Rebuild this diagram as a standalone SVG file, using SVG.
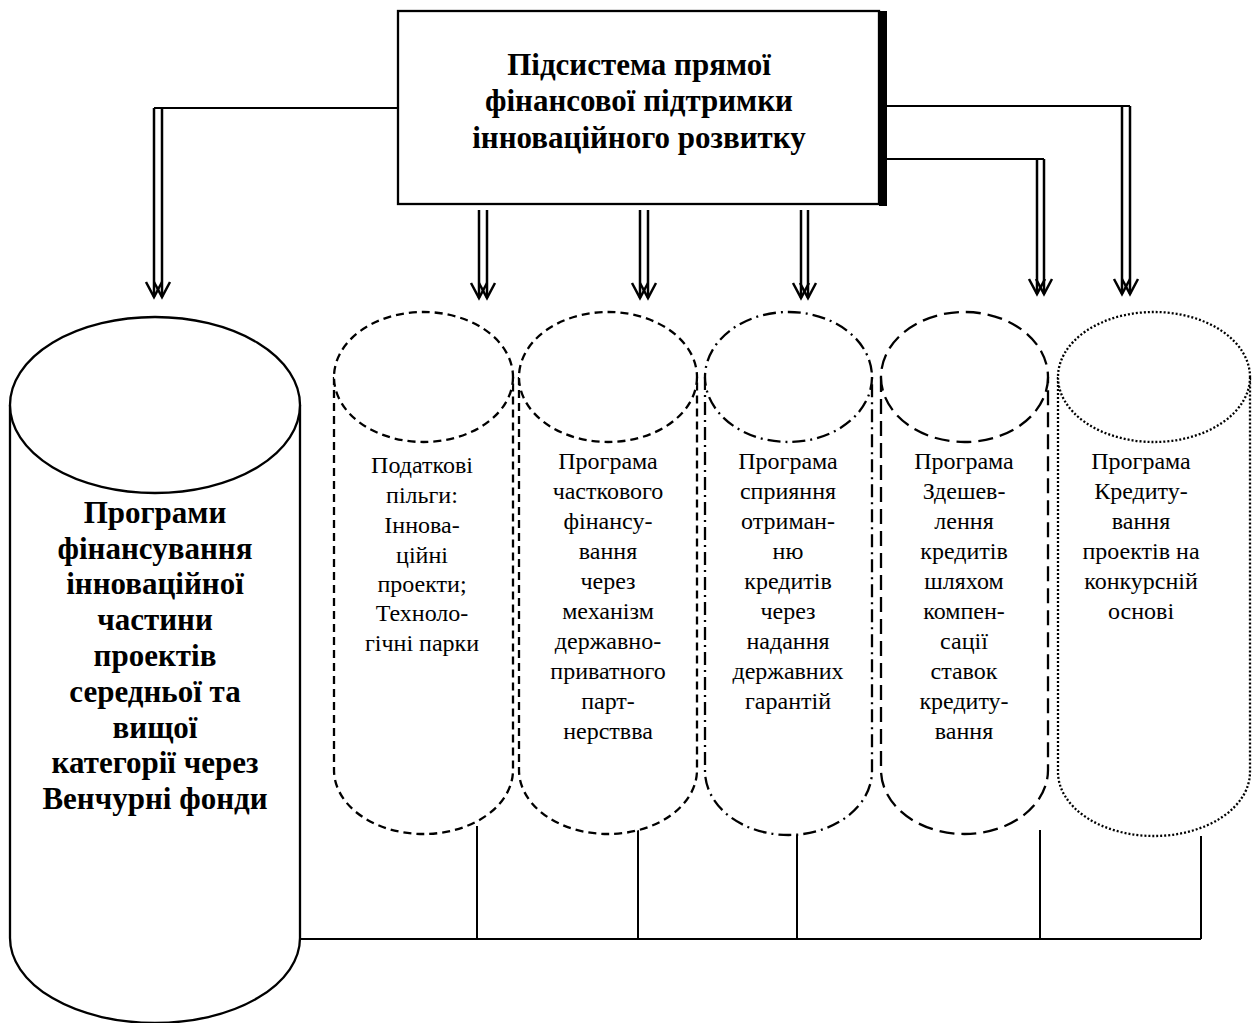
<svg xmlns="http://www.w3.org/2000/svg" width="1253" height="1023" viewBox="0 0 1253 1023">
<style>
.bg{fill:#fff}
.conn{fill:none;stroke:#000;stroke-width:2}
.arr{fill:none;stroke:#000;stroke-width:2.5;marker-end:url(#v)}
.cyl{fill:#fff;stroke:#000;stroke-width:2.3}
.d1{stroke-dasharray:8 5}
.d3{stroke-dasharray:13 5 2 5}
.d4{stroke-dasharray:15 7}
.d5{stroke-dasharray:2 2}
.t{font-family:"Liberation Serif","Times New Roman",serif;font-size:24px;fill:#000;text-anchor:middle}
.b{font-family:"Liberation Serif","Times New Roman",serif;font-weight:bold;fill:#000;text-anchor:middle}
</style>
<defs>
<marker id="v" markerUnits="userSpaceOnUse" markerWidth="40" markerHeight="40" refX="0" refY="0" orient="auto" viewBox="-20 -20 40 40" overflow="visible">
<path d="M-15,-8 L0,0 L-15,8" fill="none" stroke="#000" stroke-width="2.5"/>
</marker>
</defs>
<rect class="bg" x="0" y="0" width="1253" height="1023"/>

<g id="connectors">
<polyline class="conn" points="398,108 154,108"/>
<line class="arr" x1="154" y1="108" x2="154" y2="297"/>
<line class="arr" x1="162" y1="108" x2="162" y2="297"/>
<line class="arr" x1="479" y1="210" x2="479" y2="298"/>
<line class="arr" x1="487" y1="210" x2="487" y2="298"/>
<line class="arr" x1="640" y1="210" x2="640" y2="298"/>
<line class="arr" x1="648" y1="210" x2="648" y2="298"/>
<line class="arr" x1="801" y1="210" x2="801" y2="298"/>
<line class="arr" x1="808" y1="210" x2="808" y2="298"/>
<polyline class="conn" points="887,159 1044,159"/>
<line class="arr" x1="1037" y1="159" x2="1037" y2="294"/>
<line class="arr" x1="1044" y1="159" x2="1044" y2="294"/>
<polyline class="conn" points="887,106 1130,106"/>
<line class="arr" x1="1122" y1="106" x2="1122" y2="294"/>
<line class="arr" x1="1130" y1="106" x2="1130" y2="294"/>
<line class="conn" x1="300" y1="939" x2="1201" y2="939"/>
<line class="conn" x1="477" y1="826" x2="477" y2="939"/>
<line class="conn" x1="638" y1="830" x2="638" y2="939"/>
<line class="conn" x1="797" y1="834" x2="797" y2="939"/>
<line class="conn" x1="1040" y1="830" x2="1040" y2="939"/>
<line class="conn" x1="1201" y1="836" x2="1201" y2="939"/>
</g>

<g id="top-box">
<rect x="398" y="11" width="481" height="193" fill="#fff" stroke="#000" stroke-width="2.3"/>
<rect x="879" y="11" width="8" height="195" fill="#000"/>
<text class="b" font-size="31" x="639" y="75">Підсистема прямої</text>
<text class="b" font-size="31" x="639" y="111">фінансової підтримки</text>
<text class="b" font-size="31" x="639" y="148">інноваційного розвитку</text>
</g>

<g id="venture-funds">
<path class="cyl" d="M10,405 L10,938 A145,85 0 0 0 300,938 L300,405"/>
<ellipse class="cyl" cx="155" cy="405" rx="145" ry="88"/>
<text class="b" font-size="31" x="155" y="523">Програми</text>
<text class="b" font-size="31" x="155" y="559">фінансування</text>
<text class="b" font-size="31" x="155" y="594">інноваційної</text>
<text class="b" font-size="31" x="155" y="630">частини</text>
<text class="b" font-size="31" x="155" y="666">проектів</text>
<text class="b" font-size="31" x="155" y="702">середньої та</text>
<text class="b" font-size="31" x="155" y="738">вищої</text>
<text class="b" font-size="31" x="155" y="773">категорії через</text>
<text class="b" font-size="31" x="155" y="809">Венчурні фонди</text>
</g>

<g id="tax-benefits">
<path class="cyl d1" d="M334,377 L334,770 A89.5,64 0 0 0 513,770 L513,377"/>
<ellipse class="cyl d1" cx="423.5" cy="377" rx="89.5" ry="65"/>
<text class="t" x="422" y="473">Податкові</text>
<text class="t" x="422" y="503">пільги:</text>
<text class="t" x="422" y="533">Іннова-</text>
<text class="t" x="422" y="563">ційні</text>
<text class="t" x="422" y="592">проекти;</text>
<text class="t" x="422" y="621">Техноло-</text>
<text class="t" x="422" y="651">гічні парки</text>
</g>

<g id="ppp-program">
<path class="cyl d1" d="M519,377 L519,770 A89,64 0 0 0 697,770 L697,377"/>
<ellipse class="cyl d1" cx="608" cy="377" rx="89" ry="65"/>
<text class="t" x="608" y="469">Програма</text>
<text class="t" x="608" y="499">часткового</text>
<text class="t" x="608" y="529">фінансу-</text>
<text class="t" x="608" y="559">вання</text>
<text class="t" x="608" y="589">через</text>
<text class="t" x="608" y="619">механізм</text>
<text class="t" x="608" y="649">державно-</text>
<text class="t" x="608" y="679">приватного</text>
<text class="t" x="608" y="709">парт-</text>
<text class="t" x="608" y="739">нерствва</text>
</g>

<g id="guarantee-program">
<path class="cyl d3" d="M705,377 L705,771 A83.5,64 0 0 0 872,771 L872,377"/>
<ellipse class="cyl d3" cx="788.5" cy="377" rx="83.5" ry="65"/>
<text class="t" x="788" y="469">Програма</text>
<text class="t" x="788" y="499">сприяння</text>
<text class="t" x="788" y="529">отриман-</text>
<text class="t" x="788" y="559">ню</text>
<text class="t" x="788" y="589">кредитів</text>
<text class="t" x="788" y="619">через</text>
<text class="t" x="788" y="649">надання</text>
<text class="t" x="788" y="679">державних</text>
<text class="t" x="788" y="709">гарантій</text>
</g>

<g id="rate-compensation-program">
<path class="cyl d4" d="M881,377 L881,770 A83.5,64 0 0 0 1048,770 L1048,377"/>
<ellipse class="cyl d4" cx="964.5" cy="377" rx="83.5" ry="65"/>
<text class="t" x="964" y="469">Програма</text>
<text class="t" x="964" y="499">Здешев-</text>
<text class="t" x="964" y="529">лення</text>
<text class="t" x="964" y="559">кредитів</text>
<text class="t" x="964" y="589">шляхом</text>
<text class="t" x="964" y="619">компен-</text>
<text class="t" x="964" y="649">сації</text>
<text class="t" x="964" y="679">ставок</text>
<text class="t" x="964" y="709">кредиту-</text>
<text class="t" x="964" y="739">вання</text>
</g>

<g id="competitive-credit-program">
<path class="cyl d5" d="M1058,377 L1058,772 A96,64 0 0 0 1250,772 L1250,377"/>
<ellipse class="cyl d5" cx="1154" cy="377" rx="96" ry="65"/>
<text class="t" x="1141" y="469">Програма</text>
<text class="t" x="1141" y="499">Кредиту-</text>
<text class="t" x="1141" y="529">вання</text>
<text class="t" x="1141" y="559">проектів на</text>
<text class="t" x="1141" y="589">конкурсній</text>
<text class="t" x="1141" y="619">основі</text>
</g>
</svg>
